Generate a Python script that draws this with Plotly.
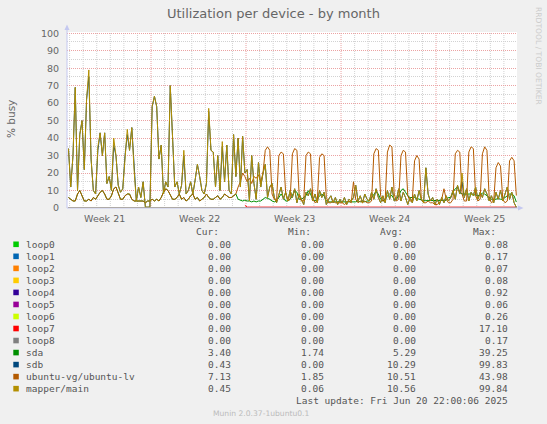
import plotly.graph_objects as go
import pandas as pd

# 4-hourly samples, first one May 18 22:00, last one Jun 20 22:00
times = pd.date_range('2025-05-18 22:00', periods=199, freq='4h')

names = ['loop0', 'loop1', 'loop2', 'loop3', 'loop4', 'loop5', 'loop6', 'loop7', 'loop8',
         'sda', 'sdb', 'ubuntu-vg/ubuntu-lv', 'mapper/main']
colors = ['#00CC00', '#0066B3', '#FF8000', '#FFCC00', '#330099', '#990099', '#CCFF00',
          '#FF0000', '#808080', '#008F00', '#00487D', '#B35A00', '#B38F00']

cur = [0.00, 0.00, 0.00, 0.00, 0.00, 0.00, 0.00, 0.00, 0.00, 3.40, 0.43, 7.13, 0.45]
mins = [0.00, 0.00, 0.00, 0.00, 0.00, 0.00, 0.00, 0.00, 0.00, 1.74, 0.00, 1.85, 0.06]
avgs = [0.00, 0.00, 0.00, 0.00, 0.00, 0.00, 0.00, 0.00, 0.00, 5.29, 10.29, 10.51, 10.56]
maxs = [0.08, 0.17, 0.07, 0.08, 0.92, 0.06, 0.26, 17.10, 0.17, 39.25, 99.83, 43.98, 99.84]

loop_zero = [0.0] * 199
loop7 = [None] * 78 + [1.5] + [0.5] * 120

sda = [6, 5, 4, 4, 8, 10, 7, 4, 4, 5,
       4, 6, 5, 7, 9, 10, 8, 5, 5, 7,
       11, 12, 9, 5, 5, 7, 8, 8, 5, 4,
       4, 4, 4, 4, 3, 4, 4, 5, 4, 5,
       4, 6, 9, 11, 10, 7, 5, 5, 6, 8,
       5, 6, 4, 5, 7, 8, 5, 6, 4, 5,
       6, 8, 6, 5, 5, 6, 7, 5, 6, 8,
       7, 6, 6, 7, 8, 5, 4.5, 4, 4.5,
       4, 4, 3.5, 4, 3.5, 4,
       4, 5, 6, 5.5, 5, 4,
       3.5, 4, 6, 8, 6, 4,
       4, 5, 7, 10, 9, 5,
       5, 6, 7, 9.9, 8, 5,
       4, 5, 7, 8, 7, 4,
       3.5, 3.5, 3.5, 3.5, 3.5, 3.5,
       3.5, 3.4, 3.5, 3.6, 3.5, 3.5,
       3.5, 4, 3.5, 4, 3.5, 4,
       4, 6, 8, 9.4, 8, 5,
       4, 5, 7, 8, 7, 5,
       5, 7, 10, 11, 9, 7,
       6, 6, 6, 5.5, 5, 4.5,
       4.2, 4.2, 4.2, 4.2, 4.2, 4.2,
       4.2, 4.1, 4.3, 4.2, 4.4, 6,
       6, 9, 11, 12, 9, 8,
       8, 8, 8, 8, 7.5, 7.5,
       7, 7.5, 8.5, 8, 7, 6,
       5, 5, 5, 5.5, 5, 5,
       6, 7, 8, 8, 7, 3.4]

ubuntu_lv = [6, 5, 4, 4, 8, 10, 7, 4, 4, 5,
             4, 6, 5, 7, 9, 10, 8, 5, 5, 7,
             11, 12, 9, 5, 5, 7, 8, 8, 5, 4,
             4, 4, 4, 4, 3, 4, 4, 5, 4, 5,
             4, 6, 9, 11, 10, 7, 5, 5, 6, 8,
             5, 6, 4, 5, 7, 8, 5, 6, 4, 5,
             6, 8, 6, 5, 5, 6, 7, 5, 6, 8,
             7, 6, 6, 7, 8, 12, 15, 20, 18,
             15, 17, 14, 18, 17, 19,
             15, 20, 33, 35, 33, 8,
             5, 4, 30, 32, 31, 9,
             4, 5, 31, 34, 33, 7,
             4, 4, 30, 32, 31, 6,
             3, 4, 29, 31, 30, 6,
             3, 3, 4, 3, 3, 3,
             3, 2, 3, 4, 3, 15,
             5, 3, 4, 3, 4, 3,
             3, 4, 31, 34, 33, 7,
             4, 4, 32, 36, 35, 8,
             4, 5, 30, 33, 32, 7,
             4, 4, 27, 30, 28, 5,
             3, 3, 4, 3, 3, 2,
             2, 3, 5, 11, 5, 3,
             3, 5, 31, 33, 32, 8,
             4, 4, 32, 35, 34, 7,
             4, 5, 31, 35, 33, 6,
             3, 4, 23, 26, 24, 5,
             3, 4, 27, 29, 27, 7.13]

mapper_main = [34, 12, 30, 69, 10, 42, 50, 22, 62, 79,
               28, 10, 8, 35, 43, 30, 43, 14, 18, 10,
               40, 30, 13, 9, 11, 30, 45, 33, 46, 22,
               4, 12, 6, 15, 0.5, 0.5, 0.5, 58, 64, 58,
               28, 36, 8, 15, 12, 70, 37, 12, 15, 8,
               13, 33, 8, 10, 15, 8, 16, 25, 18, 10,
               8, 14, 57, 33, 32, 12, 30, 10, 38, 15,
               36, 10, 8, 42, 18, 40, 12, 41, 20,
               22, 4, 30, 14, 5, 26,
               12, 20, 25, 6, 12, 14,
               6, 3, 8, 12, 5, 9,
               4, 10, 6, 11, 3, 8,
               5, 2, 9, 7, 11, 4,
               8, 3, 10, 6, 9, 2,
               5, 7, 3, 6, 2, 5,
               3, 6, 2, 5, 4, 6,
               13, 4, 7, 3, 8, 5,
               4, 9, 5, 11, 6, 3,
               7, 3, 10, 5, 12, 4,
               5, 11, 4, 9, 6, 2,
               6, 3, 8, 4, 10, 5,
               3, 23, 8, 4, 6, 2,
               5, 2, 6, 3, 7, 4,
               6, 10, 5, 13, 8, 20,
               6, 11, 4, 9, 7, 12,
               5, 9, 6, 11, 8, 4,
               7, 3, 9, 5, 10, 4,
               8, 12, 5, 9, 3, 0.45]

sdb = [34, 12, 30, 69, 10, 42, 50, 22, 62, 75,
       28, 10, 8, 33, 43, 30, 43, 14, 18, 10,
       36, 30, 13, 9, 11, 30, 42, 33, 46, 22,
       4, 12, 6, 15, 0.5, 0.5, 0.5, 58, 64, 58,
       28, 36, 8, 15, 12, 70, 37, 12, 15, 8,
       13, 30, 8, 10, 15, 8, 16, 25, 18, 10,
       8, 14, 55, 33, 32, 12, 30, 10, 35, 15,
       36, 10, 8, 42, 18, 40, 12, 41, 20,
       22, 4, 30, 14, 5, 26,
       12, 20, 25, 6, 12, 14,
       6, 3, 8, 12, 5, 9,
       4, 10, 6, 11, 3, 8,
       5, 2, 9, 7, 11, 4,
       8, 3, 10, 6, 9, 2,
       5, 7, 3, 6, 2, 5,
       3, 6, 2, 5, 4, 6,
       13, 4, 7, 3, 8, 5,
       4, 9, 5, 11, 6, 3,
       7, 3, 10, 5, 12, 4,
       5, 11, 4, 9, 6, 2,
       6, 3, 8, 4, 10, 5,
       3, 23, 8, 4, 6, 2,
       5, 2, 6, 3, 7, 4,
       6, 10, 5, 13, 8, 15,
       6, 11, 4, 9, 7, 12,
       5, 9, 6, 11, 8, 4,
       7, 3, 9, 5, 10, 4,
       8, 12, 5, 9, 3, 0.43]

series = [loop_zero] * 7 + [loop7, loop_zero, sda, sdb, ubuntu_lv, mapper_main]

week_ticks = ['2025-05-21 14:00', '2025-05-28 14:00', '2025-06-04 14:00',
              '2025-06-11 14:00', '2025-06-18 14:00']
week_labels = ['Week 21', 'Week 22', 'Week 23', 'Week 24', 'Week 25']

# pixel helpers (plot area is x 67..517, y 32..208)
def px(x):
    return (x - 67) / 450.0

def py(y):
    return (208 - y) / 176.0

axis_col = '#C4C8F0'
txt_col = '#555555'

fig = go.Figure()
for name, col, vals in zip(names, colors, series):
    fig.add_trace(go.Scatter(x=times, y=vals, mode='lines', name=name,
                             line=dict(color=col, width=1), connectgaps=False,
                             hoverinfo='skip'))

shapes = []
# daily grid, red on week starts
for d in pd.date_range('2025-05-19', '2025-06-20', freq='D'):
    red = d.weekday() == 6
    shapes.append(dict(type='line', xref='x', yref='paper', x0=d, x1=d, y0=0, y1=1,
                       layer='below',
                       line=dict(color='#EBA3A3' if red else '#D2D2D2', width=1, dash='1px,1px')))
# axes with arrows
shapes.append(dict(type='line', xref='paper', yref='paper', x0=px(67), x1=px(519), y0=0, y1=0,
                   line=dict(color=axis_col, width=1)))
shapes.append(dict(type='line', xref='paper', yref='paper', x0=0, x1=0, y0=0, y1=py(29),
                   line=dict(color=axis_col, width=1)))
shapes.append(dict(type='path', xref='paper', yref='paper',
                   path='M %f,%f L %f,%f L %f,%f Z' % (px(518), py(205.5), px(523.5), py(208), px(518), py(210.5)),
                   fillcolor=axis_col, line=dict(width=0)))
shapes.append(dict(type='path', xref='paper', yref='paper',
                   path='M %f,%f L %f,%f L %f,%f Z' % (px(64.5), py(30), px(67), py(24.5), px(69.5), py(30)),
                   fillcolor=axis_col, line=dict(width=0)))

annotations = []

def text(x, y, s, size=9.5, anchor='left', family='DejaVu Sans Mono', color=txt_col, angle=0):
    annotations.append(dict(xref='paper', yref='paper', x=px(x), y=py(y), text=s,
                            showarrow=False, xanchor=anchor, yanchor='middle', textangle=angle,
                            font=dict(family=family, size=size, color=color), borderpad=0))

text(273, 14, 'Utilization per device - by month', size=13, anchor='center', family='DejaVu Sans',
     color='#666666')
text(11, 119, '% busy', size=10.5, anchor='center', family='DejaVu Sans', color='#666666', angle=-90)
text(539, 56, 'RRDTOOL / TOBI OETIKER', size=7.6, anchor='center', family='DejaVu Sans',
     color='#CCCCCC', angle=90)

text(220, 232, 'Cur:', anchor='right')
text(312, 232, 'Min:', anchor='right')
text(404, 232, 'Avg:', anchor='right')
text(497, 232, 'Max:', anchor='right')

for k, name in enumerate(names):
    yc = 244.3 + 12.03 * k
    shapes.append(dict(type='rect', xref='paper', yref='paper', x0=px(13.3), x1=px(18.8),
                       y0=py(yc + 2.8), y1=py(yc - 2.8), fillcolor=colors[k], line=dict(width=0)))
    text(25, yc, name)
    text(232, yc, '%.2f' % cur[k], anchor='right')
    text(325, yc, '%.2f' % mins[k], anchor='right')
    text(416.7, yc, '%.2f' % avgs[k], anchor='right')
    text(509, yc, '%.2f' % maxs[k], anchor='right')

text(509, 400.3, 'Last update: Fri Jun 20 22:00:06 2025', anchor='right')
text(261, 413.3, 'Munin 2.0.37-1ubuntu0.1', size=7.6, anchor='center', family='DejaVu Sans',
     color='#BBBBBB')

fig.update_layout(
    width=547, height=424,
    margin=dict(l=67, r=30, t=32, b=216),
    paper_bgcolor='#F0F0F0', plot_bgcolor='#FFFFFF',
    showlegend=False,
    shapes=shapes, annotations=annotations,
    font=dict(family='DejaVu Sans', color='#666666'),
)
fig.update_xaxes(type='date', range=['2025-05-18 19:24', '2025-06-20 23:10'],
                 tickvals=week_ticks, ticktext=week_labels,
                 showgrid=False, zeroline=False, showline=False,
                 ticks='outside', ticklen=2, tickcolor='rgba(0,0,0,0)',
                 tickfont=dict(family='DejaVu Sans', size=9.5, color='#666666'))
fig.update_yaxes(range=[0, 100.7], dtick=10, tick0=0, zeroline=False, showline=False,
                 showgrid=True, gridcolor='#EBA3A3', griddash='1px,1px', gridwidth=1,
                 minor=dict(dtick=5, showgrid=True, gridcolor='#D2D2D2', griddash='1px,1px'),
                 ticks='outside', ticklen=5, tickcolor='rgba(0,0,0,0)',
                 tickfont=dict(family='DejaVu Sans', size=9.5, color='#666666'))

# the page body has a default margin, drop it so the figure sits at the window corner
fig.write_html('out.html', config={'displayModeBar': False},
               post_script="document.body.style.margin='0';")
